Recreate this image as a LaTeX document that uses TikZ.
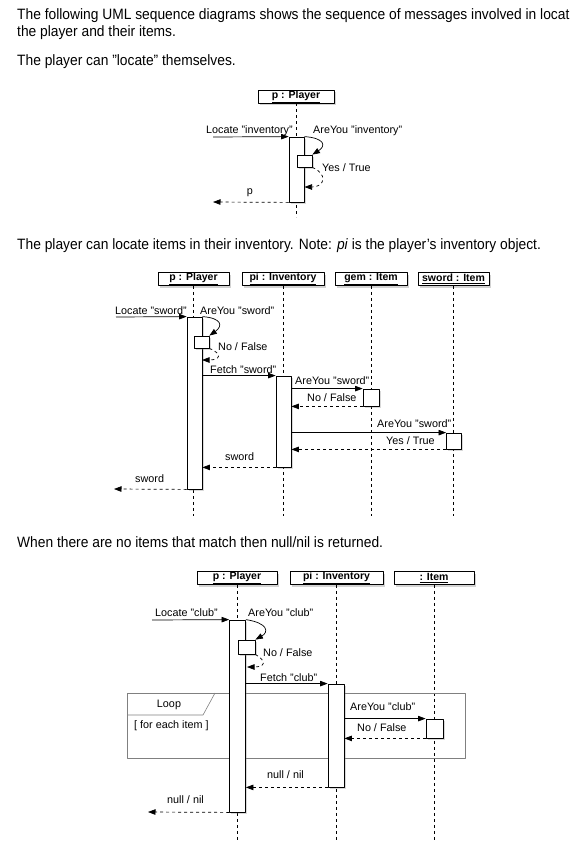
\documentclass[tikz,border=0pt]{standalone}
\usepackage{fontspec}
\setmainfont{Liberation Sans}
\usetikzlibrary{arrows.meta,shadows}
\tikzset{
  head/.style={draw, fill=white, line width=0.8pt, inner sep=0pt, minimum height=13pt,
    font=\fontsize{10.5}{12}\selectfont\bfseries,
    drop shadow={shadow xshift=2pt, shadow yshift=-2pt, opacity=0.35}},
  bar/.style={draw, fill=white, line width=0.8pt, inner sep=0pt,
    drop shadow={shadow xshift=1.5pt, shadow yshift=-1.5pt, opacity=0.3}},
  life/.style={dashed, line width=0.7pt},
  msg/.style={line width=0.7pt, -{Triangle[length=7.5pt,width=5.5pt]}},
  ret/.style={msg, dashed},
  lbl/.style={font=\fontsize{10.8}{12}\selectfont, inner sep=0pt},
  txt/.style={font=\fontsize{15}{17}\selectfont, inner sep=0pt, anchor=base west, xscale=0.92}
}
\begin{document}
\begin{tikzpicture}[x=1pt, y=-1pt, line join=round]
\useasboundingbox (0,0) rectangle (575,849);
% intro text
\node[txt] (t1) at (17,19) {The following UML sequence diagrams shows the sequence of messages involved in locat};
\node[txt] (t2) at (17,36) {the player and their items.};
\node[txt] (t3) at (17,65) {The player can "locate" themselves.};

% --- player locates itself
\node[head, minimum width=76pt] (hp1) at (296,96.5) {\underline{p : Player}};
\draw[life] (hp1.south) -- ++(0,114);
\node[bar, minimum width=15pt, minimum height=65pt] (a1) at (296.5,169.5) {};
\node[bar, minimum width=15pt, minimum height=12pt] (s1) at (304.5,161) {};
\coordinate (in1) at (213,137);
\coordinate (r1) at (304.5,187);
\coordinate (out1) at (213,202);
\draw[msg] (in1) -- (a1.north west);
\draw[msg] (a1.north east) .. controls (325,138) and (326,146) .. (s1.north east);
\draw[ret] (s1.south east) .. controls (328,174) and (325,187) .. (r1);
\draw[ret] (a1.south west) -- (out1);
\node[lbl, anchor=base west] at (206,133.5) {Locate "inventory"};
\node[lbl, anchor=base west] at (313,133.5) {AreYou "inventory"};
\node[lbl, anchor=base west] at (322,171) {Yes / True};
\node[lbl, anchor=base] at (250,194) {p};

\node[txt] (t4) at (17,249) {The player can locate items in their inventory. Note: \textit{pi} is the player's inventory object.};

% --- locate an item
\node[head, minimum width=71pt] (hp2) at (193.5,279) {\underline{p : Player}};
\node[head, minimum width=82pt] (hi2) at (283,279) {\underline{pi : Inventory}};
\node[head, minimum width=72pt] (hg2) at (371,279) {\underline{gem : Item}};
\node[head, minimum width=71pt] (hs2) at (453.5,279) {\underline{sword : Item}};
\foreach \h in {hp2,hi2,hg2,hs2}
  \draw[life] (\h.south) -- ++(0,230);
\node[bar, minimum width=15pt, minimum height=172pt] (a2) at (194.5,403) {};
\node[bar, minimum width=15pt, minimum height=12pt] (s2) at (201.5,342) {};
\node[bar, minimum width=15pt, minimum height=91pt] (b2) at (283.5,421.5) {};
\node[bar, minimum width=16pt, minimum height=17pt] (g2) at (371,397.5) {};
\node[bar, minimum width=15pt, minimum height=16pt] (w2) at (454,441) {};
\coordinate (in2) at (116,317);
\coordinate (r2) at (202,360);
\coordinate (out2) at (114,489);
\draw[msg] (in2) -- (a2.north west);
\draw[msg] (a2.north east) .. controls (222,318) and (223,326) .. (s2.north east);
\draw[ret] (s2.south east) .. controls (223,354) and (220,360) .. (r2);
\draw[msg] (a2.east |- b2.north) -- (b2.north west);
\draw[msg] (b2.east |- g2.north) -- (g2.north west);
\draw[ret] (g2.south west) -- (b2.east |- g2.south);
\draw[msg] (b2.east |- w2.north) -- (w2.north west);
\draw[ret] (w2.south west) -- (b2.east |- w2.south);
\draw[ret] (b2.south west) -- (a2.east |- b2.south);
\draw[ret] (a2.south west) -- (out2);
\node[lbl, anchor=base west] at (115,314) {Locate "sword"};
\node[lbl, anchor=base west] at (200,314) {AreYou "sword"};
\node[lbl, anchor=base west] at (218,350) {No / False};
\node[lbl, anchor=base west] at (210,373) {Fetch "sword"};
\node[lbl, anchor=base west] at (295,384) {AreYou "sword"};
\node[lbl, anchor=base west] at (307,401) {No / False};
\node[lbl, anchor=base west] at (377,427.5) {AreYou "sword"};
\node[lbl, anchor=base west] at (386,444.5) {Yes / True};
\node[lbl, anchor=base west] at (225,460) {sword};
\node[lbl, anchor=base west] at (135,482.5) {sword};

\node[txt] (t5) at (17,547) {When there are no items that match then null/nil is returned.};

% --- no matching item
\node[head, minimum width=80pt] (hp3) at (237,578) {\underline{p : Player}};
\node[head, minimum width=93pt] (hi3) at (336.5,578) {\underline{pi : Inventory}};
\node[head, minimum width=80pt] (hn3) at (434,578) {\underline{: Item}};
\foreach \h in {hp3,hi3,hn3}
  \draw[life] (\h.south) -- ++(0,255);
\draw[gray, line width=0.6pt] (127,693) rectangle (465,758);
\draw[gray, line width=0.6pt] (127,715) -- (203,715) -- (215,693);
\node[lbl, anchor=base] at (169,707.5) {Loop};
\node[lbl, anchor=base west] at (134,728.5) {[ for each item ]};
\node[bar, minimum width=16pt, minimum height=192pt] (a3) at (237.5,716) {};
\node[bar, minimum width=17pt, minimum height=14pt] (s3) at (246.5,647) {};
\node[bar, minimum width=16pt, minimum height=103pt] (b3) at (336,735.5) {};
\node[bar, minimum width=17pt, minimum height=19pt] (n3) at (434.5,728.5) {};
\coordinate (in3) at (152,620);
\coordinate (r3) at (247,667);
\coordinate (out3) at (148,812);
\draw[msg] (in3) -- (a3.north west);
\draw[msg] (a3.north east) .. controls (268,623) and (269,632) .. (s3.north east);
\draw[ret] (s3.south east) .. controls (268,662) and (264,667) .. (r3);
\draw[msg] (a3.east |- b3.north) -- (b3.north west);
\draw[msg] (b3.east |- n3.north) -- (n3.north west);
\draw[ret] (n3.south west) -- (b3.east |- n3.south);
\draw[ret] (b3.south west) -- (a3.east |- b3.south);
\draw[ret] (a3.south west) -- (out3);
\node[lbl, anchor=base west] at (155,616.5) {Locate "club"};
\node[lbl, anchor=base west] at (248,616.5) {AreYou "club"};
\node[lbl, anchor=base west] at (263,656.5) {No / False};
\node[lbl, anchor=base west] at (260,681.5) {Fetch "club"};
\node[lbl, anchor=base west] at (350,710.5) {AreYou "club"};
\node[lbl, anchor=base west] at (357,731.5) {No / False};
\node[lbl, anchor=base west] at (267,778.5) {null / nil};
\node[lbl, anchor=base west] at (167,803.5) {null / nil};
\end{tikzpicture}
\end{document}
